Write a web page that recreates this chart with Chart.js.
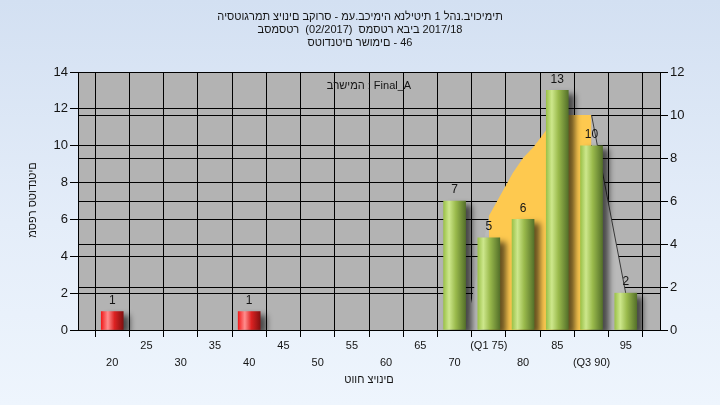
<!DOCTYPE html>
<html>
<head>
<meta charset="utf-8">
<script src="https://cdn.jsdelivr.net/npm/chart.js@4/dist/chart.umd.min.js"></script>
<style>
  html, body { margin: 0; padding: 0; }
  body { width: 720px; height: 405px; overflow: hidden;
         background: linear-gradient(to bottom, #d3e0f2 0%, #e4edf9 55%, #eef5fd 100%); }
  #c { display: block; }
</style>
</head>
<body>
<canvas id="c" width="720" height="405"></canvas>
<script>
// Histogram counts (left axis)
const failScores = [20, 40];
const failCounts = [1, 1];
const passScores = [70, 75, 80, 85, 90, 95];
const passCounts = [7, 5, 6, 13, 10, 2];

// Distribution outline (right axis), highlighted between the quartiles
const curveScores = [71.6, 75, 78.5, 80, 81.5, 83.4, 85, 90, 95];
const curveValues = [0, 5.3, 7.3, 8.0, 8.5, 9.3, 10, 10, 1.7];
const q1 = 75;
const q3 = 90;

// X-axis ticks
const xTickValues = [20, 25, 30, 35, 40, 45, 50, 55, 60, 65, 70, 75, 80, 85, 90, 95];
const xTickLabels = ['20', '25', '30', '35', '40', '45', '50', '55', '60', '65', '70', '(Q1 75)', '80', '85', '(Q3 90)', '95'];

// Texts
const titleLines = [
  'היסטוגרמת ציונים בקורס - מע.בכימיה אנליטית 1 להנ.ביוכימית',
  'בסמסטר  (02/2017)  סמסטר אביב 2017/18',
  'סטודנטים רשומים - 46'
];
const yAxisTitle = 'מספר סטודנטים';
const xAxisTitle = 'טווח ציונים';
const listNote = 'ברשימה : Final_A';

const FONT = "'Liberation Sans', 'DejaVu Sans', Arial, sans-serif";
const TEXT = '#141414';

// Lays characters out strictly left to right, centred on (cx, cy)
function drawLeftToRight(ctx, s, cx, cy) {
  const chars = Array.from(s);
  const widths = chars.map(ch => ctx.measureText(ch).width);
  const total = widths.reduce((a, b) => a + b, 0);
  let x = cx - total / 2;
  ctx.textAlign = 'left';
  chars.forEach((ch, i) => { ctx.fillText(ch, x, cy); x += widths[i]; });
}

function barGradient(c, stops) {
  const chart = c.chart;
  if (!chart.chartArea || !c.raw) return stops[0][1];
  const px = chart.scales.x.getPixelForValue(c.raw.x);
  const g = chart.ctx.createLinearGradient(px - 11, 0, px + 11, 0);
  stops.forEach(s => g.addColorStop(s[0], s[1]));
  return g;
}
const redStops = [[0, '#f21c1c'], [0.3, '#ff8e8e'], [0.6, '#dd2222'], [1, '#821010']];
const greenStops = [[0, '#9cc24a'], [0.25, '#cde78c'], [0.55, '#9aba4c'], [1, '#55712a']];

const plotBackground = {
  id: 'plotBackground',
  beforeDraw(chart) {
    const { ctx, chartArea: a } = chart;
    ctx.save();
    ctx.fillStyle = '#b3b3b3';
    ctx.fillRect(a.left, a.top, a.right - a.left, a.bottom - a.top);
    ctx.restore();
  }
};

const barShadow = {
  id: 'barShadow',
  beforeDatasetDraw(chart, args) {
    if (args.meta.type !== 'bar') return;
    const ctx = chart.ctx;
    ctx.save();
    ctx.shadowColor = 'rgba(0,0,0,0.6)';
    ctx.shadowOffsetX = 6;
    ctx.shadowOffsetY = 4;
    ctx.shadowBlur = 6;
  },
  afterDatasetDraw(chart, args) {
    if (args.meta.type !== 'bar') return;
    chart.ctx.restore();
  }
};

const barValues = {
  id: 'barValues',
  afterDatasetsDraw(chart) {
    const ctx = chart.ctx;
    ctx.save();
    ctx.font = '12px ' + FONT;
    ctx.fillStyle = TEXT;
    ctx.textAlign = 'center';
    ctx.textBaseline = 'middle';
    chart.data.datasets.forEach((ds, i) => {
      const meta = chart.getDatasetMeta(i);
      if (meta.type !== 'bar') return;
      meta.data.forEach((el, j) => {
        ctx.fillText(String(ds.data[j].y), el.x, el.y - 11);
      });
    });
    ctx.restore();
  }
};

const chartTexts = {
  id: 'chartTexts',
  afterDraw(chart) {
    const ctx = chart.ctx;
    const a = chart.chartArea;
    ctx.save();
    ctx.direction = 'ltr';
    ctx.fillStyle = TEXT;
    ctx.textBaseline = 'middle';
    ctx.font = '11px ' + FONT;
    titleLines.forEach((t, i) => drawLeftToRight(ctx, t, 360, 17 + i * 12.8));

    drawLeftToRight(ctx, listNote, (a.left + a.right) / 2, 86);
    drawLeftToRight(ctx, xAxisTitle, (a.left + a.right) / 2, 380);

    ctx.translate(33, 200);
    ctx.rotate(-Math.PI / 2);
    drawLeftToRight(ctx, yAxisTitle, 0, 0);
    ctx.restore();
  }
};

new Chart(document.getElementById('c'), {
  data: {
    datasets: [
      {
        type: 'bar',
        data: failScores.map((x, i) => ({ x, y: failCounts[i] })),
        yAxisID: 'y',
        barThickness: 22,
        grouped: false,
        order: 1,
        backgroundColor: c => barGradient(c, redStops)
      },
      {
        type: 'bar',
        data: passScores.map((x, i) => ({ x, y: passCounts[i] })),
        yAxisID: 'y',
        barThickness: 22,
        grouped: false,
        order: 1,
        backgroundColor: c => barGradient(c, greenStops)
      },
      {
        type: 'line',
        data: curveScores.map((x, i) => ({ x, y: curveValues[i] })),
        yAxisID: 'y2',
        order: 3,
        fill: 'origin',
        tension: 0,
        pointRadius: 0,
        borderWidth: 1,
        backgroundColor: '#bcbcbc',
        borderColor: 'rgba(0,0,0,0)',
        segment: {
          backgroundColor: s => (s.p0.parsed.x >= q1 && s.p1.parsed.x <= q3) ? '#fec94f' : '#bababa',
          borderColor: s => (s.p0.parsed.x >= q3) ? '#3a3a3a' : 'rgba(0,0,0,0)'
        }
      }
    ]
  },
  options: {
    responsive: false,
    animation: false,
    devicePixelRatio: 1,
    layout: { padding: { top: 72, left: 0, right: 0, bottom: 0 } },
    plugins: {
      legend: { display: false },
      title: { display: false },
      tooltip: { enabled: false }
    },
    scales: {
      x: {
        type: 'linear',
        min: 15,
        max: 100,
        offset: false,
        afterBuildTicks: s => { s.ticks = xTickValues.map(v => ({ value: v })); },
        afterFit: s => { s.height = 75; },
        ticks: {
          autoSkip: false,
          maxRotation: 0,
          padding: 1,
          color: TEXT,
          font: { family: FONT, size: 11, lineHeight: 1.5 },
          callback: v => {
            const i = xTickValues.indexOf(v);
            const lab = xTickLabels[i];
            return i % 2 === 0 ? ['', lab] : [lab, ''];
          }
        },
        grid: { color: '#000', lineWidth: 1, tickLength: 7 },
        border: { color: '#000' }
      },
      y: {
        position: 'left',
        min: 0,
        max: 14,
        afterFit: s => { s.width = 78; },
        ticks: { stepSize: 2, padding: 2, color: TEXT, font: { family: FONT, size: 13 } },
        grid: { color: '#000', lineWidth: 1, tickLength: 8 },
        border: { color: '#000' }
      },
      y2: {
        position: 'right',
        min: 0,
        max: 12,
        afterFit: s => { s.width = 60; },
        ticks: { stepSize: 2, padding: 2, color: TEXT, font: { family: FONT, size: 13 } },
        grid: { color: '#000', lineWidth: 1, tickLength: 8 },
        border: { color: '#000' }
      }
    }
  },
  plugins: [plotBackground, barShadow, barValues, chartTexts]
});
</script>
</body>
</html>
